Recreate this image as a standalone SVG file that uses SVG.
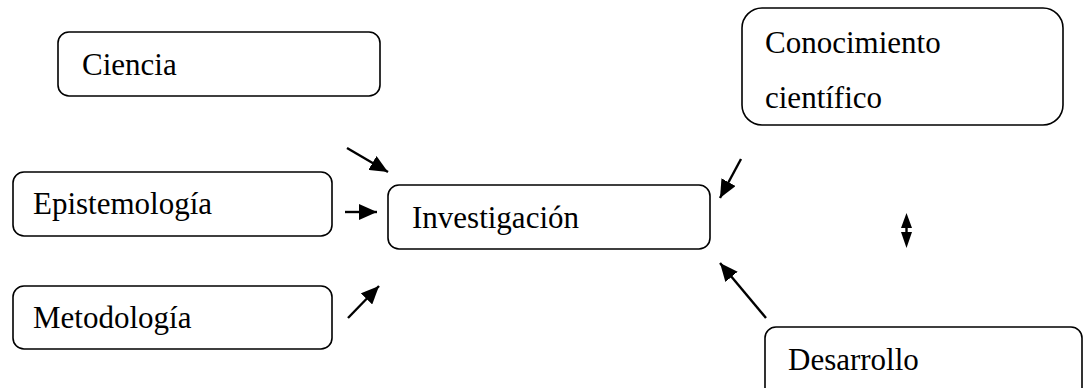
<svg xmlns="http://www.w3.org/2000/svg" width="1084" height="388" viewBox="0 0 1084 388">
<defs>
<style>
.box{fill:#fff;stroke:#000;stroke-width:1.6}
.t{font-family:"Liberation Serif","Times New Roman",serif;font-size:31px;fill:#000}
.c{stroke:#000;stroke-width:2.4;fill:none}
</style>
<marker id="ah" viewBox="0 0 18 16" refX="18" refY="8" markerWidth="18" markerHeight="16" markerUnits="userSpaceOnUse" orient="auto">
<path d="M0,0 L18,8 L0,16 Z" fill="#000"/>
</marker>
</defs>
<rect width="1084" height="388" fill="#fff"/>
<g id="ciencia"><rect class="box" x="58" y="32" width="322" height="64" rx="11"/><text class="t" x="82" y="75">Ciencia</text></g>
<g id="conocimiento"><rect class="box" x="742" y="8" width="321" height="117" rx="20"/><text class="t" x="765" y="53">Conocimiento</text><text class="t" x="765" y="108">científico</text></g>
<g id="epistemologia"><rect class="box" x="13" y="172" width="319" height="64" rx="11"/><text class="t" x="33" y="214">Epistemología</text></g>
<g id="investigacion"><rect class="box" x="388" y="185" width="322" height="64" rx="11"/><text class="t" x="412" y="228">Investigación</text></g>
<g id="metodologia"><rect class="box" x="13" y="286" width="319" height="63" rx="11"/><text class="t" x="33" y="328">Metodología</text></g>
<g id="desarrollo"><rect class="box" x="765" y="327" width="317" height="80" rx="11"/><text class="t" x="788" y="370">Desarrollo</text></g>
<g id="connectors">
<line class="c" x1="347" y1="148" x2="388" y2="172" marker-end="url(#ah)"/>
<line class="c" x1="345" y1="212" x2="377" y2="212" marker-end="url(#ah)"/>
<line class="c" x1="348" y1="318" x2="379" y2="286" marker-end="url(#ah)"/>
<line class="c" x1="741" y1="159" x2="720" y2="198" marker-end="url(#ah)"/>
<line class="c" x1="766" y1="318" x2="720" y2="263" marker-end="url(#ah)"/>
<path d="M906.5,213 L912,228 L901,228 Z M906.5,248 L912,232 L901,232 Z" fill="#000"/>
<line class="c" x1="906.5" y1="227" x2="906.5" y2="233" stroke-width="1.5"/>
</g>
</svg>
